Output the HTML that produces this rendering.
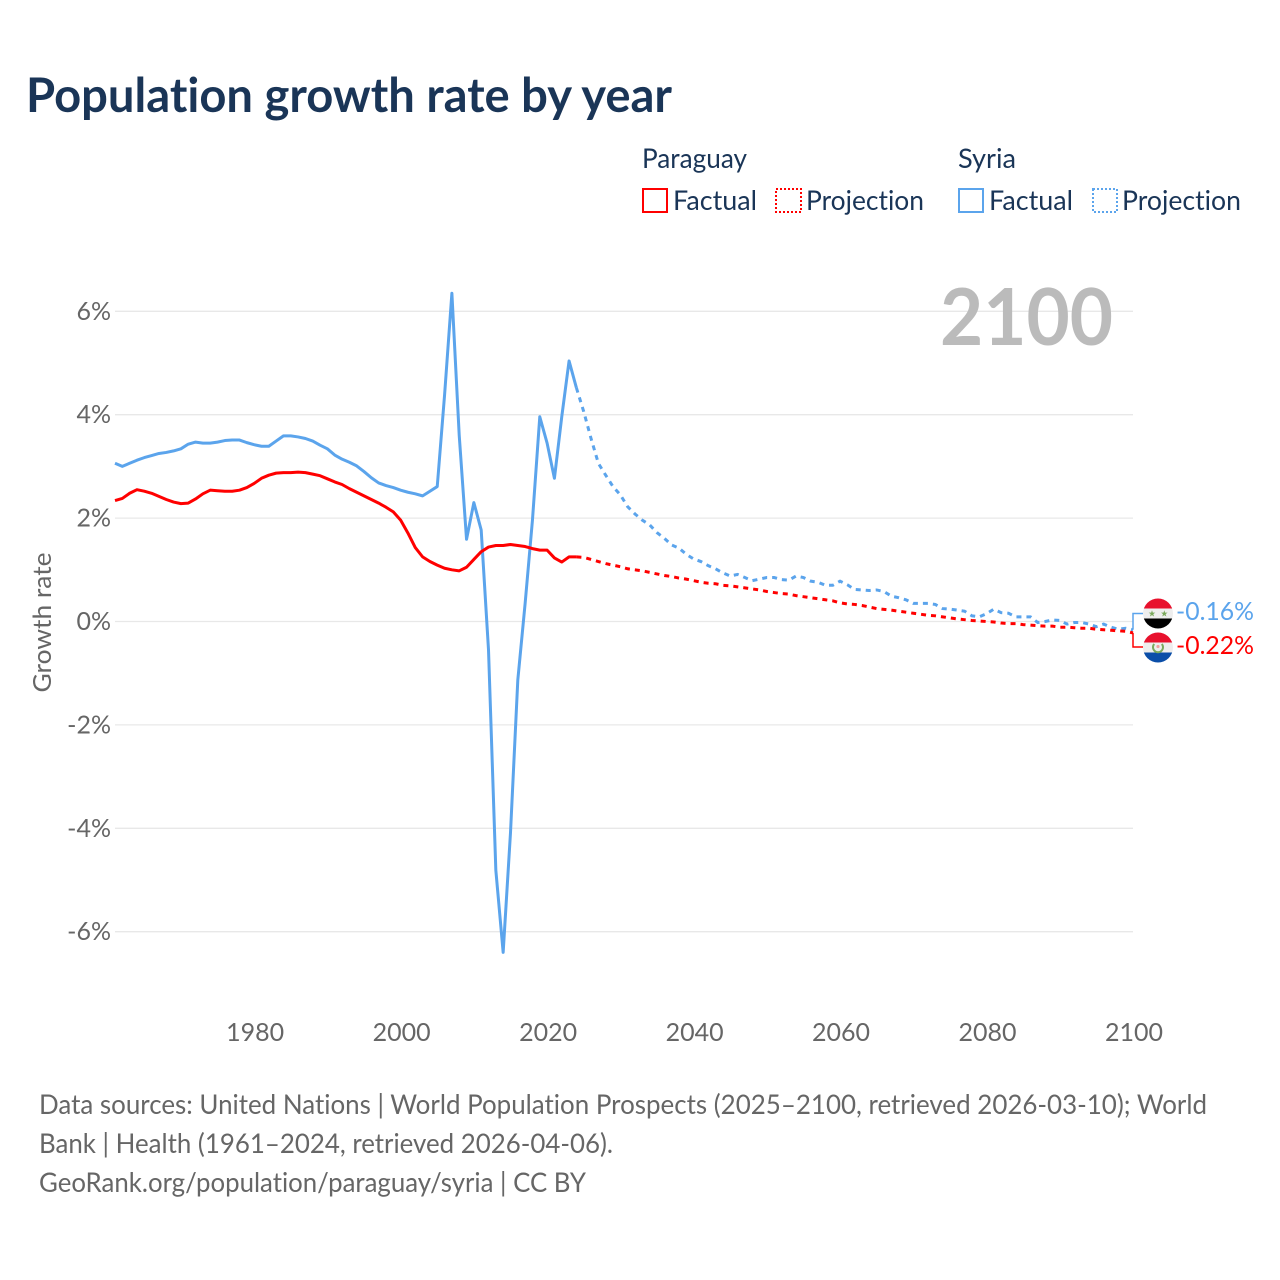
<!DOCTYPE html>
<html lang="en">
<head>
<meta charset="utf-8">
<title>Population growth rate by year</title>
<style>
html,body{margin:0;padding:0;background:#fff;}
svg{display:block;}
text{font-family:"Lato","Carlito","Liberation Sans",sans-serif;font-variant-ligatures:none;}
</style>
</head>
<body>
<svg id="chart" xmlns="http://www.w3.org/2000/svg" width="1280" height="1280" viewBox="0 0 1280 1280">
  <rect x="0" y="0" width="1280" height="1280" fill="#ffffff"/>
  <text x="26" y="112" font-size="48" font-weight="700" fill="#1a3557" textLength="646" lengthAdjust="spacingAndGlyphs">Population growth rate by year</text>

  <g font-size="27" fill="#1a3557">
    <text x="642" y="168" textLength="105" lengthAdjust="spacingAndGlyphs">Paraguay</text>
    <text x="958" y="168" textLength="58" lengthAdjust="spacingAndGlyphs">Syria</text>
    <rect x="643" y="189" width="24" height="23" fill="none" stroke="#ff0000" stroke-width="2"/>
    <text x="673" y="210" textLength="84" lengthAdjust="spacingAndGlyphs">Factual</text>
    <rect x="776" y="189" width="25" height="23" fill="none" stroke="#ff0000" stroke-width="2" stroke-dasharray="2 2"/>
    <text x="806" y="210" textLength="118" lengthAdjust="spacingAndGlyphs">Projection</text>
    <rect x="959" y="189" width="24" height="23" fill="none" stroke="#5ba4ec" stroke-width="2"/>
    <text x="989" y="210" textLength="84" lengthAdjust="spacingAndGlyphs">Factual</text>
    <rect x="1093" y="189" width="24" height="23" fill="none" stroke="#5ba4ec" stroke-width="2" stroke-dasharray="2 2"/>
    <text x="1122" y="210" textLength="119" lengthAdjust="spacingAndGlyphs">Projection</text>
  </g>

  <g id="grid"></g>
  <g id="yticks" font-size="25" fill="#666666" text-anchor="end"></g>
  <g id="xticks" font-size="25" fill="#666666" text-anchor="middle"></g>
  <text transform="translate(51,622.5) rotate(-90)" font-size="25" fill="#666666" text-anchor="middle" textLength="140" lengthAdjust="spacingAndGlyphs">Growth rate</text>
  <text x="940" y="345" font-size="79" font-weight="700" fill="#bbbbbb" textLength="173" lengthAdjust="spacingAndGlyphs">2100</text>

  <g id="series"></g>
  <g id="ends"></g>

  <defs>
    <clipPath id="clip-syria"><circle cx="1158" cy="613.5" r="15"/></clipPath>
    <clipPath id="clip-paraguay"><circle cx="1158" cy="647.5" r="15"/></clipPath>
  </defs>
  <g clip-path="url(#clip-syria)">
    <rect x="1143" y="598.5" width="30" height="10" fill="#e8112d"/>
    <rect x="1143" y="608.5" width="30" height="10" fill="#eeeeee"/>
    <rect x="1143" y="618.5" width="30" height="10" fill="#000000"/>
    <polygon transform="translate(1152,613.7)" points="0,-3.5 0.8,-1.1 3.3,-1.1 1.3,0.4 2.1,2.8 0,1.4 -2.1,2.8 -1.3,0.4 -3.3,-1.1 -0.8,-1.1" fill="#7aa95c"/>
    <polygon transform="translate(1164.3,613.7)" points="0,-3.5 0.8,-1.1 3.3,-1.1 1.3,0.4 2.1,2.8 0,1.4 -2.1,2.8 -1.3,0.4 -3.3,-1.1 -0.8,-1.1" fill="#7aa95c"/>
  </g>
  <g clip-path="url(#clip-paraguay)">
    <rect x="1143" y="632.5" width="30" height="10" fill="#e8112d"/>
    <rect x="1143" y="642.5" width="30" height="10" fill="#eeeeee"/>
    <rect x="1143" y="652.5" width="30" height="10" fill="#0a4ea8"/>
    <path d="M1154.2 644 A5 5 0 1 0 1161.8 644" fill="none" stroke="#7aa95c" stroke-width="2"/>
    <circle cx="1158" cy="646.5" r="1.6" fill="#f0a0a0"/>
  </g>

  <g font-size="27" fill="#666666">
    <text x="39" y="1114" textLength="1168" lengthAdjust="spacingAndGlyphs">Data sources: United Nations | World Population Prospects (2025–2100, retrieved 2026-03-10); World</text>
    <text x="39" y="1153" textLength="574" lengthAdjust="spacingAndGlyphs">Bank | Health (1961–2024, retrieved 2026-04-06).</text>
    <text x="39" y="1192" textLength="547" lengthAdjust="spacingAndGlyphs">GeoRank.org/population/paraguay/syria | CC BY</text>
  </g>
</svg>
<script>
// Growth rate (%) per year. Factual series start in 1961, projections start in 2024.
const factualStartYear = 1961;
const projectionStartYear = 2024;
const yTickValues = [6, 4, 2, 0, -2, -4, -6];
const xTickYears = [1980, 2000, 2020, 2040, 2060, 2080, 2100];

const paraguayFactual = [2.34,2.38,2.48,2.55,2.52,2.48,2.42,2.36,2.31,2.28,2.29,2.37,2.47,2.54,2.53,2.52,2.52,2.54,2.59,2.67,2.77,2.83,2.87,2.88,2.88,2.89,2.88,2.85,2.82,2.76,2.70,2.65,2.57,2.50,2.43,2.36,2.29,2.21,2.12,1.96,1.71,1.43,1.25,1.16,1.09,1.03,1.00,0.98,1.05,1.20,1.35,1.44,1.47,1.47,1.49,1.47,1.45,1.41,1.38,1.38,1.23,1.15,1.25,1.25];
const paraguayProjection = [1.25,1.24,1.20,1.16,1.12,1.09,1.06,1.02,1.00,0.98,0.95,0.92,0.89,0.87,0.84,0.82,0.79,0.76,0.74,0.73,0.70,0.69,0.67,0.65,0.63,0.61,0.58,0.56,0.54,0.53,0.50,0.48,0.46,0.44,0.42,0.40,0.36,0.34,0.33,0.31,0.28,0.25,0.235,0.22,0.20,0.18,0.16,0.14,0.12,0.11,0.09,0.07,0.05,0.035,0.02,0.01,0.00,-0.01,-0.03,-0.04,-0.04,-0.06,-0.07,-0.08,-0.09,-0.09,-0.11,-0.11,-0.12,-0.13,-0.13,-0.15,-0.16,-0.17,-0.18,-0.19,-0.22];
const syriaFactual = [3.06,3.00,3.06,3.12,3.17,3.21,3.25,3.27,3.30,3.34,3.43,3.47,3.45,3.45,3.47,3.50,3.51,3.51,3.46,3.42,3.39,3.39,3.49,3.59,3.59,3.57,3.54,3.49,3.41,3.34,3.22,3.14,3.08,3.01,2.90,2.78,2.68,2.63,2.59,2.54,2.50,2.47,2.43,2.52,2.61,4.38,6.35,3.60,1.59,2.30,1.77,-0.55,-4.81,-6.40,-4.09,-1.13,0.35,1.96,3.96,3.45,2.77,3.96,5.04,4.52];
const syriaProjection = [4.52,4.06,3.54,3.06,2.83,2.61,2.45,2.22,2.08,1.96,1.87,1.72,1.61,1.48,1.42,1.30,1.21,1.16,1.08,1.02,0.94,0.88,0.91,0.85,0.79,0.82,0.85,0.85,0.81,0.80,0.88,0.85,0.78,0.76,0.70,0.70,0.78,0.71,0.62,0.61,0.60,0.61,0.58,0.49,0.46,0.42,0.35,0.35,0.35,0.33,0.25,0.24,0.22,0.20,0.11,0.09,0.15,0.24,0.17,0.16,0.09,0.09,0.09,-0.02,0.00,0.03,0.02,-0.05,-0.02,-0.02,-0.05,-0.10,-0.05,-0.11,-0.15,-0.13,-0.16];

const SVGNS = 'http://www.w3.org/2000/svg';
const xScale = function (year) { return 115 + (year - 1961) * (1133 - 115) / (2100 - 1961); };
const yScale = function (value) { return 621.5 - value * 51.7; };

function make(tag, parent, attrs) {
  const el = document.createElementNS(SVGNS, tag);
  Object.keys(attrs).forEach(function (k) { el.setAttribute(k, attrs[k]); });
  parent.appendChild(el);
  return el;
}

const gridGroup = document.getElementById('grid');
const yGroup = document.getElementById('yticks');
yTickValues.forEach(function (v) {
  const line = make('line', gridGroup, { x1: 115, x2: 1133, y1: yScale(v), y2: yScale(v), stroke: '#e8e8e8', 'stroke-width': 1.3 });
  
  
  const label = make('text', yGroup, { x: 111, y: yScale(v) + 8.5 });
  
  
  label.textContent = v + '%';
});

const xGroup = document.getElementById('xticks');
xTickYears.forEach(function (yr) {
  const label = make('text', xGroup, { x: xScale(yr) + 1, y: 1041 });
  
  
  label.textContent = yr;
});

function linePath(values, startYear) {
  return values.map(function (v, i) {
    return (i ? 'L' : 'M') + xScale(startYear + i).toFixed(2) + ' ' + yScale(v).toFixed(2);
  }).join(' ');
}

const seriesGroup = document.getElementById('series');

const syriaProjectionLine = make('path', seriesGroup, { d: linePath(syriaProjection, projectionStartYear), fill: 'none', stroke: '#5ba4ec', 'stroke-width': 3, 'stroke-dasharray': '5 5' });



const paraguayProjectionLine = make('path', seriesGroup, { d: linePath(paraguayProjection, projectionStartYear), fill: 'none', stroke: '#ff0000', 'stroke-width': 3, 'stroke-dasharray': '5 5' });



const syriaFactualLine = make('path', seriesGroup, { d: linePath(syriaFactual, factualStartYear), fill: 'none', stroke: '#5ba4ec', 'stroke-width': 3, 'stroke-linejoin': 'round' });



const paraguayFactualLine = make('path', seriesGroup, { d: linePath(paraguayFactual, factualStartYear), fill: 'none', stroke: '#ff0000', 'stroke-width': 3, 'stroke-linejoin': 'round' });



const endGroup = document.getElementById('ends');
const syriaEnd = syriaProjection[syriaProjection.length - 1];
const paraguayEnd = paraguayProjection[paraguayProjection.length - 1];

const syriaConnector = make('path', endGroup, { d: 'M' + xScale(2100) + ' ' + yScale(syriaEnd) + ' V613.5 H1143', fill: 'none', stroke: '#5ba4ec', 'stroke-width': 1.5 });



const paraguayConnector = make('path', endGroup, { d: 'M' + xScale(2100) + ' ' + yScale(paraguayEnd) + ' V647 H1143', fill: 'none', stroke: '#ff0000', 'stroke-width': 1.5 });



const syriaEndLabel = make('text', endGroup, { x: 1176, y: 620, 'font-size': 25, fill: '#5ba4ec', textLength: 78, lengthAdjust: 'spacingAndGlyphs' });


syriaEndLabel.textContent = syriaEnd.toFixed(2) + '%';

const paraguayEndLabel = make('text', endGroup, { x: 1176, y: 654, 'font-size': 25, fill: '#ff0000', textLength: 78, lengthAdjust: 'spacingAndGlyphs' });


paraguayEndLabel.textContent = paraguayEnd.toFixed(2) + '%';
</script>
</body>
</html>
